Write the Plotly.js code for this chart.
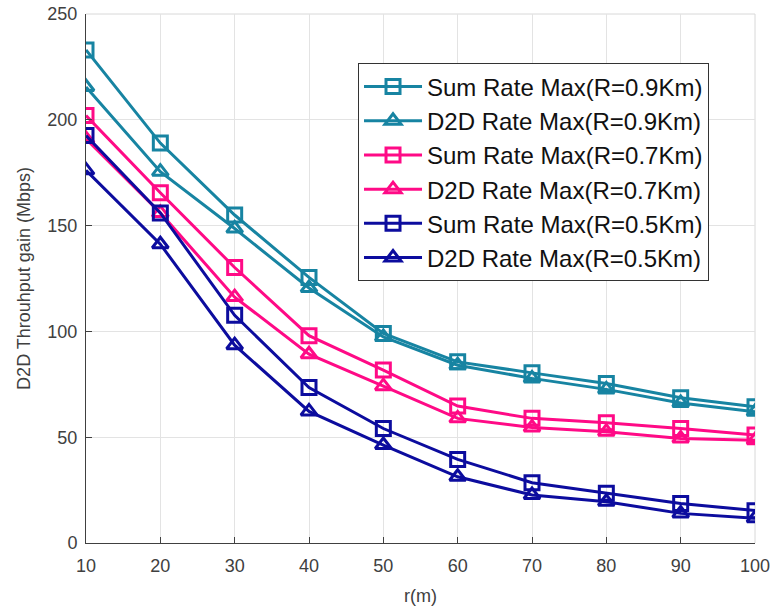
<!DOCTYPE html>
<html>
<head>
<meta charset="utf-8">
<script src="https://cdn.plot.ly/plotly-3.0.1.min.js"></script>
<style>html,body{margin:0;padding:0;background:#fff;} #chart{width:772px;height:611px;}</style>
</head>
<body>
<div id="chart"></div>
<script>
const r = [10, 20, 30, 40, 50, 60, 70, 80, 90, 100];
const sumRate09 = [233, 189, 155, 125.5, 99, 85.6, 80.4, 75.4, 68.6, 64.4];
const d2dRate09 = [215.5, 175.5, 148.6, 120.5, 97.4, 84, 77.8, 72.6, 66.2, 62];
const sumRate07 = [202, 165.5, 130.2, 98, 81.7, 64.7, 58.9, 56.8, 54.1, 51];
const d2dRate07 = [191, 156, 116.2, 89.2, 74.1, 58.9, 54.6, 52.6, 49.4, 48.6];
const sumRate05 = [192.6, 156, 107.6, 73.5, 54.1, 39.5, 28.5, 23.5, 18.7, 15.3];
const d2dRate05 = [176.1, 141.2, 93.5, 62.2, 46.3, 31.3, 22.7, 19.5, 14, 11.7];
const seriesNames = [
  "Sum Rate Max(R=0.9Km)", "D2D Rate Max(R=0.9Km)",
  "Sum Rate Max(R=0.7Km)", "D2D Rate Max(R=0.7Km)",
  "Sum Rate Max(R=0.5Km)", "D2D Rate Max(R=0.5Km)"
];
const xTicks = [10, 20, 30, 40, 50, 60, 70, 80, 90, 100];
const yTicks = [0, 50, 100, 150, 200, 250];

const teal = '#1784a2', pink = '#ff0a86', navy = '#0c0c9e';
const seriesData = [sumRate09, d2dRate09, sumRate07, d2dRate07, sumRate05, d2dRate05];
const colors = [teal, teal, pink, pink, navy, navy];
const symbols = ['square-open', 'triangle-up-open', 'square-open', 'triangle-up-open', 'square-open', 'triangle-up-open'];

const traces = seriesData.map((ys, i) => ({
  x: r, y: ys, name: seriesNames[i], type: 'scatter', mode: 'lines+markers',
  line: {color: colors[i], width: 3},
  marker: {symbol: symbols[i], size: 14, color: colors[i], line: {color: colors[i], width: 3}}
}));

const fontFam = '"Liberation Sans", Arial, sans-serif';
const layout = {
  width: 772, height: 611,
  margin: {l: 86, r: 17, t: 13.5, b: 68},
  paper_bgcolor: '#fff', plot_bgcolor: '#fff',
  font: {family: fontFam, color: '#404040', size: 18},
  showlegend: true,
  legend: {
    x: 0.4066, y: 0.9065, xanchor: 'left', yanchor: 'top',
    bgcolor: '#fff', bordercolor: '#333', borderwidth: 1,
    font: {family: fontFam, size: 24, color: '#111'},
    tracegroupgap: 0, itemwidth: 58
  },
  xaxis: {
    range: [10, 100], tickvals: xTicks, ticktext: xTicks.map(String),
    showgrid: true, gridcolor: '#e3e3e3', gridwidth: 1,
    showline: true, linecolor: '#404040', linewidth: 1,
    ticks: 'inside', ticklen: 6, tickcolor: '#404040',
    ticklabelstandoff: 6,
    zeroline: false, tickfont: {size: 18, color: '#404040'},
    title: {text: 'r(m)', font: {size: 18, color: '#404040'}, standoff: 14}
  },
  yaxis: {
    range: [0, 250], tickvals: yTicks, ticktext: yTicks.map(String),
    showgrid: true, gridcolor: '#e3e3e3', gridwidth: 1,
    showline: true, linecolor: '#404040', linewidth: 1,
    ticks: 'inside', ticklen: 6, tickcolor: '#404040',
    ticklabelstandoff: 4,
    zeroline: false, tickfont: {size: 18, color: '#404040'},
    title: {text: 'D2D Throuhput gain (Mbps)', font: {size: 18, color: '#404040'}, standoff: 12}
  },
  shapes: [
    {type: 'line', xref: 'paper', yref: 'paper', x0: 0, x1: 1, y0: 1, y1: 1, line: {color: '#d8d8d8', width: 1}, layer: 'below'},
    {type: 'line', xref: 'paper', yref: 'paper', x0: 1, x1: 1, y0: 0, y1: 1, line: {color: '#d8d8d8', width: 1}, layer: 'below'}
  ]
};
Plotly.newPlot('chart', traces, layout, {displayModeBar: false, staticPlot: true});
</script>
</body>
</html>
